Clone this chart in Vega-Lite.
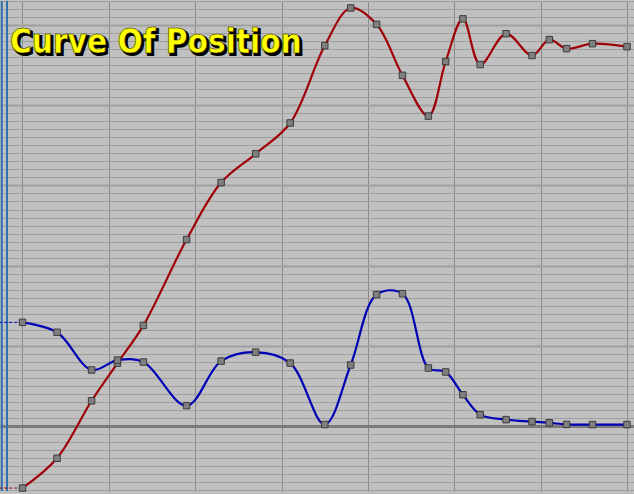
{
  "$schema": "https://vega.github.io/schema/vega-lite/v6.json",
  "width": 634,
  "height": 494,
  "padding": 0,
  "autosize": {"type": "fit", "contains": "padding"},
  "background": "#c0c0c0",
  "config": {"view": {"stroke": null}},
  "datasets": {
    "keys": [
      {"frame": 0, "v": -7.73, "curve": "position"},
      {"frame": 4, "v": -4.02, "curve": "position"},
      {"frame": 8, "v": 3.15, "curve": "position"},
      {"frame": 11, "v": 7.85, "curve": "position"},
      {"frame": 14, "v": 12.55, "curve": "position"},
      {"frame": 19, "v": 23.25, "curve": "position"},
      {"frame": 23, "v": 30.36, "curve": "position"},
      {"frame": 27, "v": 33.95, "curve": "position"},
      {"frame": 31, "v": 37.79, "curve": "position"},
      {"frame": 35, "v": 47.43, "curve": "position"},
      {"frame": 38, "v": 52.13, "curve": "position"},
      {"frame": 41, "v": 50.09, "curve": "position"},
      {"frame": 44, "v": 43.73, "curve": "position"},
      {"frame": 47, "v": 38.65, "curve": "position"},
      {"frame": 49, "v": 45.45, "curve": "position"},
      {"frame": 51, "v": 50.77, "curve": "position"},
      {"frame": 53, "v": 45.08, "curve": "position"},
      {"frame": 56, "v": 48.92, "curve": "position"},
      {"frame": 59, "v": 46.2, "curve": "position"},
      {"frame": 61, "v": 48.18, "curve": "position"},
      {"frame": 63, "v": 47.06, "curve": "position"},
      {"frame": 66, "v": 47.68, "curve": "position"},
      {"frame": 70, "v": 47.31, "curve": "position"},
      {"frame": 0, "v": 12.93, "curve": "speed"},
      {"frame": 4, "v": 11.69, "curve": "speed"},
      {"frame": 8, "v": 6.99, "curve": "speed"},
      {"frame": 11, "v": 8.22, "curve": "speed"},
      {"frame": 14, "v": 7.98, "curve": "speed"},
      {"frame": 19, "v": 2.54, "curve": "speed"},
      {"frame": 23, "v": 8.1, "curve": "speed"},
      {"frame": 27, "v": 9.21, "curve": "speed"},
      {"frame": 31, "v": 7.85, "curve": "speed"},
      {"frame": 35, "v": 0.19, "curve": "speed"},
      {"frame": 38, "v": 7.61, "curve": "speed"},
      {"frame": 41, "v": 16.39, "curve": "speed"},
      {"frame": 44, "v": 16.51, "curve": "speed"},
      {"frame": 47, "v": 7.24, "curve": "speed"},
      {"frame": 49, "v": 6.74, "curve": "speed"},
      {"frame": 51, "v": 3.9, "curve": "speed"},
      {"frame": 53, "v": 1.42, "curve": "speed"},
      {"frame": 56, "v": 0.8, "curve": "speed"},
      {"frame": 59, "v": 0.56, "curve": "speed"},
      {"frame": 61, "v": 0.4, "curve": "speed"},
      {"frame": 63, "v": 0.2, "curve": "speed"},
      {"frame": 66, "v": 0.18, "curve": "speed"},
      {"frame": 70, "v": 0.18, "curve": "speed"}
    ],
    "ext": [
      {"frame": -2.7, "v": -7.73, "curve": "position"},
      {"frame": 0, "v": -7.73, "curve": "position"},
      {"frame": -2.7, "v": 12.93, "curve": "speed"},
      {"frame": 0, "v": 12.93, "curve": "speed"}
    ],
    "edges": [
      {"frame": -2.4},
      {"frame": -1.79}
    ],
    "title": [
      {"label": "Curve Of Position"}
    ]
  },
  "layer": [
    {
      "data": {"name": "edges"},
      "mark": {"type": "rule", "color": "#2c6fae", "strokeWidth": 2},
      "encoding": {
        "x": {
          "field": "frame",
          "type": "quantitative",
          "scale": {"domain": [-2.605, 70.81], "nice": false, "zero": false},
          "axis": {"values": [0, 10, 20, 30, 40, 50, 60, 70], "labels": false, "ticks": false, "domain": false, "title": null, "grid": true, "gridColor": "#8a8a8a", "gridWidth": 1}
        },
        "y": {
          "datum": -8.1,
          "type": "quantitative",
          "scale": {"domain": [-8.1, 53], "nice": false, "zero": false},
          "axis": {
            "values": [-8, -7, -6, -5, -4, -3, -2, -1, 0, 1, 2, 3, 4, 5, 6, 7, 8, 9, 10, 11, 12, 13, 14, 15, 16, 17, 18, 19, 20, 21, 22, 23, 24, 25, 26, 27, 28, 29, 30, 31, 32, 33, 34, 35, 36, 37, 38, 39, 40, 41, 42, 43, 44, 45, 46, 47, 48, 49, 50, 51, 52, 53],
            "labels": false, "ticks": false, "domain": false, "title": null, "grid": true,
            "gridColor": {"condition": {"test": "datum.value === 0", "value": "#7c7c7c"}, "value": "#a0a0a0"},
            "gridWidth": {"condition": [{"test": "datum.value === 0", "value": 3}, {"test": "datum.value % 10 === 0", "value": 2}], "value": 1}
          }
        },
        "y2": {"datum": 53}
      }
    },
    {
      "encoding": {
        "x": {
          "field": "frame",
          "type": "quantitative",
          "scale": {"domain": [-2.605, 70.81], "nice": false, "zero": false},
          "axis": {"values": [0, 10, 20, 30, 40, 50, 60, 70], "labels": false, "ticks": false, "domain": false, "title": null, "grid": true, "gridColor": "#8a8a8a", "gridWidth": 1}
        },
        "y": {
          "field": "v",
          "type": "quantitative",
          "scale": {"domain": [-8.1, 53], "nice": false, "zero": false},
          "axis": {
            "values": [-8, -7, -6, -5, -4, -3, -2, -1, 0, 1, 2, 3, 4, 5, 6, 7, 8, 9, 10, 11, 12, 13, 14, 15, 16, 17, 18, 19, 20, 21, 22, 23, 24, 25, 26, 27, 28, 29, 30, 31, 32, 33, 34, 35, 36, 37, 38, 39, 40, 41, 42, 43, 44, 45, 46, 47, 48, 49, 50, 51, 52, 53],
            "labels": false, "ticks": false, "domain": false, "title": null, "grid": true,
            "gridColor": {"condition": {"test": "datum.value === 0", "value": "#7c7c7c"}, "value": "#a0a0a0"},
            "gridWidth": {"condition": [{"test": "datum.value === 0", "value": 3}, {"test": "datum.value % 10 === 0", "value": 2}], "value": 1}
          }
        }
      },
      "layer": [
        {
          "data": {"name": "ext"},
          "mark": {"type": "line", "strokeDash": [3, 2], "strokeWidth": 1, "clip": true},
          "encoding": {
            "color": {
              "field": "curve",
              "type": "nominal",
              "scale": {"domain": ["position", "speed"], "range": ["#a00008", "#0000b4"]},
              "legend": null
            }
          }
        },
        {
          "data": {"name": "keys"},
          "mark": {"type": "line", "interpolate": "catmull-rom", "strokeWidth": 2.2, "clip": true},
          "encoding": {
            "color": {"field": "curve", "type": "nominal", "legend": null}
          }
        },
        {
          "data": {"name": "keys"},
          "mark": {"type": "point", "shape": "square", "filled": true, "size": 42, "fill": "#7f7f7f", "stroke": "#3c3c3c", "strokeWidth": 1, "opacity": 1}
        }
      ]
    },
    {
      "data": {"name": "title"},
      "encoding": {
        "x": {
          "datum": -1.447,
          "type": "quantitative",
          "scale": {"domain": [-2.605, 70.81], "nice": false, "zero": false},
          "axis": {"values": [0, 10, 20, 30, 40, 50, 60, 70], "labels": false, "ticks": false, "domain": false, "title": null, "grid": true, "gridColor": "#8a8a8a", "gridWidth": 1}
        },
        "y": {
          "datum": 46.57,
          "type": "quantitative",
          "scale": {"domain": [-8.1, 53], "nice": false, "zero": false},
          "axis": {
            "values": [-8, -7, -6, -5, -4, -3, -2, -1, 0, 1, 2, 3, 4, 5, 6, 7, 8, 9, 10, 11, 12, 13, 14, 15, 16, 17, 18, 19, 20, 21, 22, 23, 24, 25, 26, 27, 28, 29, 30, 31, 32, 33, 34, 35, 36, 37, 38, 39, 40, 41, 42, 43, 44, 45, 46, 47, 48, 49, 50, 51, 52, 53],
            "labels": false, "ticks": false, "domain": false, "title": null, "grid": true,
            "gridColor": {"condition": {"test": "datum.value === 0", "value": "#7c7c7c"}, "value": "#a0a0a0"},
            "gridWidth": {"condition": [{"test": "datum.value === 0", "value": 3}, {"test": "datum.value % 10 === 0", "value": 2}], "value": 1}
          }
        },
        "text": {"field": "label"}
      },
      "layer": [
        {
          "mark": {"type": "text", "font": "Liberation Sans Narrow, DejaVu Sans Condensed, sans-serif", "fontSize": 33, "fontWeight": "bold", "align": "left", "baseline": "alphabetic", "fill": "#000000", "stroke": "#000000", "strokeWidth": 2, "dx": 2, "dy": 2}
        },
        {
          "mark": {"type": "text", "font": "Liberation Sans Narrow, DejaVu Sans Condensed, sans-serif", "fontSize": 33, "fontWeight": "bold", "align": "left", "baseline": "alphabetic", "fill": "#ffff00", "stroke": "#202000", "strokeWidth": 0.5}
        }
      ]
    }
  ]
}
